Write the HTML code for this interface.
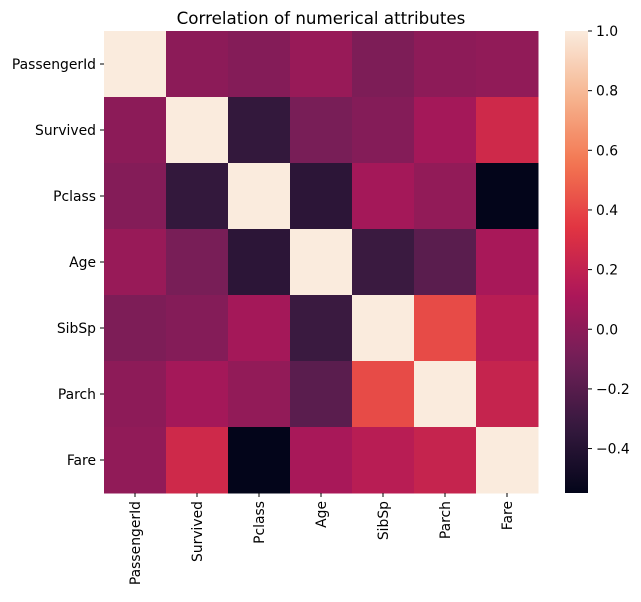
<!DOCTYPE html>
<html><head><meta charset="utf-8"><style>
body{margin:0;background:#fff;font-family:"Liberation Sans","DejaVu Sans",sans-serif;}
svg text{font-family:"DejaVu Sans","Liberation Sans",sans-serif;}
</style></head><body>
<svg id="chart" width="641" height="597" xmlns="http://www.w3.org/2000/svg">
<text x="321" y="24" text-anchor="middle" font-size="16.7">Correlation of numerical attributes</text>
<g id="cells"></g><g id="xlabels"></g><g id="ylabels"></g>
<defs><linearGradient id="cbgrad" x1="0" y1="1" x2="0" y2="0"></linearGradient></defs>
<rect x="565" y="31" width="23" height="462" fill="url(#cbgrad)"/>
<g id="cbticks"></g>
</svg>
<script>
const labels=["PassengerId","Survived","Pclass","Age","SibSp","Parch","Fare"];
const row0=[1,-0.005,-0.035,0.037,-0.058,-0.0017,0.0127];
const row1=[-0.005,1,-0.338,-0.077,-0.035,0.082,0.257];
const row2=[-0.035,-0.338,1,-0.369,0.083,0.018,-0.549];
const row3=[0.037,-0.077,-0.369,1,-0.308,-0.189,0.096];
const row4=[-0.058,-0.035,0.083,-0.308,1,0.415,0.160];
const row5=[-0.0017,0.082,0.018,-0.189,0.415,1,0.216];
const row6=[0.0127,0.257,-0.549,0.096,0.160,0.216,1];
const cbTicks=[-0.4,-0.2,0.0,0.2,0.4,0.6,0.8,1.0];
const matrix=[row0,row1,row2,row3,row4,row5,row6];
const NS="http://www.w3.org/2000/svg";
const x0=104,y0=31,W=434,H=462;
const flat=matrix.flat();const vmin=Math.min(...flat),vmax=Math.max(...flat);
const stops=[[0,"#03051a"],[1/7,"#35193e"],[2/7,"#701f57"],[3/7,"#ad1759"],[4/7,"#e13342"],[5/7,"#f37651"],[6/7,"#f6b48f"],[1,"#faebdd"]];
function hex(h){return [1,3,5].map(i=>parseInt(h.substr(i,2),16));}
function cmap(v){let t=(v-vmin)/(vmax-vmin);t=Math.max(0,Math.min(1,t));
for(let i=0;i<stops.length-1;i++){if(t<=stops[i+1][0]){const a=hex(stops[i][1]),b=hex(stops[i+1][1]);const f=(t-stops[i][0])/(stops[i+1][0]-stops[i][0]);return "rgb("+a.map((c,k)=>Math.round(c+(b[k]-c)*f)).join(",")+")";}}return stops[7][1];}
const n=labels.length,cw=W/n,ch=H/n;
const xs=i=>x0+i*cw,ys=j=>y0+j*ch;
const cells=document.getElementById("cells");
matrix.forEach((row,j)=>row.forEach((v,i)=>{const r=document.createElementNS(NS,"rect");
r.setAttribute("x",xs(i));r.setAttribute("y",ys(j));r.setAttribute("width",cw+0.5);r.setAttribute("height",ch+0.5);r.setAttribute("fill",cmap(v));


cells.appendChild(r);}));
const xl=document.getElementById("xlabels"),yl=document.getElementById("ylabels");
labels.forEach((l,i)=>{
const cx=xs(i)+cw/2;
const tk=document.createElementNS(NS,"line");tk.setAttribute("x1",cx);tk.setAttribute("x2",cx);tk.setAttribute("y1",y0+H);tk.setAttribute("y2",y0+H+4);tk.setAttribute("stroke","#000");xl.appendChild(tk);
const t=document.createElementNS(NS,"text");t.textContent=l;t.setAttribute("font-size","13.9");t.setAttribute("text-anchor","end");
t.setAttribute("transform","translate("+(cx+5)+","+(y0+H+8)+") rotate(-90)");


xl.appendChild(t);
const cy=ys(i)+ch/2;
const tk2=document.createElementNS(NS,"line");tk2.setAttribute("x1",x0-4);tk2.setAttribute("x2",x0);tk2.setAttribute("y1",cy);tk2.setAttribute("y2",cy);tk2.setAttribute("stroke","#000");yl.appendChild(tk2);
const t2=document.createElementNS(NS,"text");t2.textContent=l;t2.setAttribute("font-size","13.9");t2.setAttribute("text-anchor","end");
t2.setAttribute("x",x0-8);t2.setAttribute("y",cy+5);


yl.appendChild(t2);});
const g=document.getElementById("cbgrad");
for(let k=0;k<=40;k++){const s=document.createElementNS(NS,"stop");s.setAttribute("offset",k/40);s.setAttribute("stop-color",cmap(vmin+(vmax-vmin)*k/40));g.appendChild(s);}
const cbt=document.getElementById("cbticks");
const cy=v=>y0+H-(v-vmin)/(vmax-vmin)*H;
cbTicks.forEach(v=>{const y=cy(v);
const l=document.createElementNS(NS,"line");l.setAttribute("x1",588);l.setAttribute("x2",592);l.setAttribute("y1",y);l.setAttribute("y2",y);l.setAttribute("stroke","#000");cbt.appendChild(l);
const t=document.createElementNS(NS,"text");t.textContent=(v<0?"\u2212"+Math.abs(v).toFixed(1):v.toFixed(1));t.setAttribute("x",596);t.setAttribute("y",y+5);t.setAttribute("font-size","13.9");


cbt.appendChild(t);});
</script>
</body></html>
